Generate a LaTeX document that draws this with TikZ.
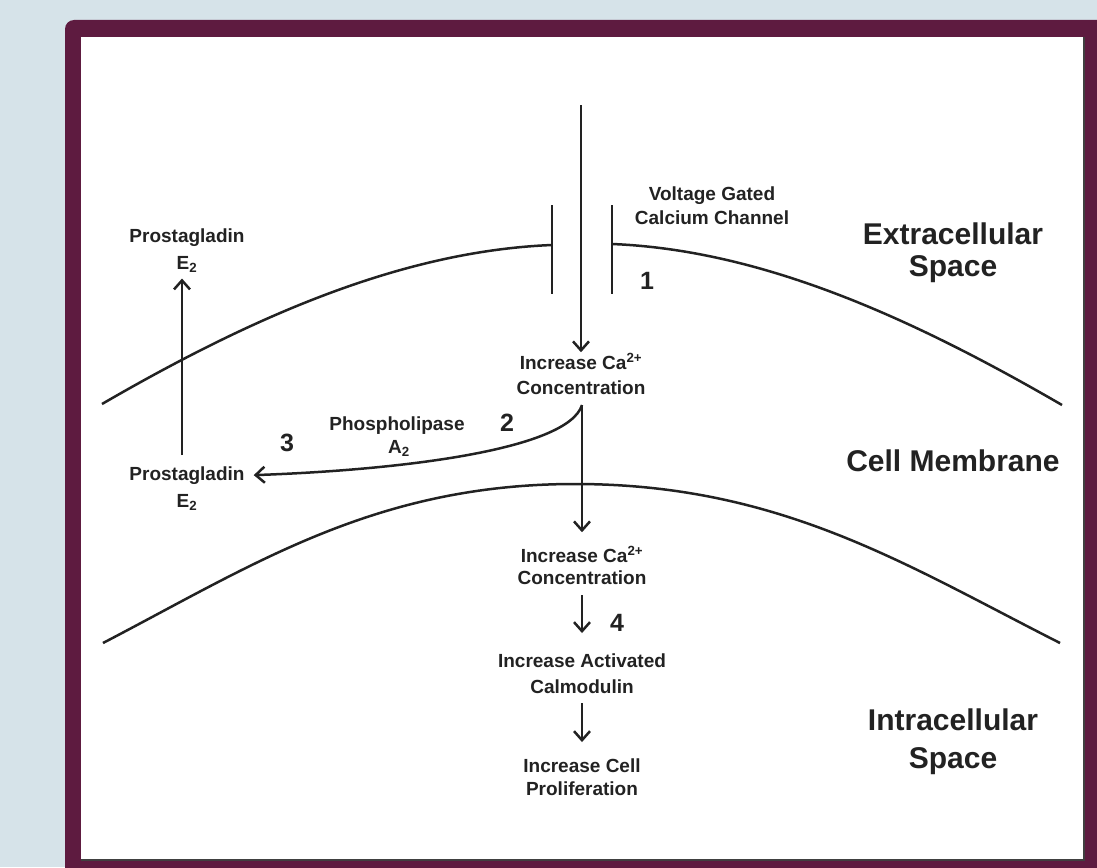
\documentclass[tikz,border=0pt]{standalone}
\usepackage{fontspec}
\setmainfont{Liberation Sans}
\usetikzlibrary{arrows.meta}
\definecolor{bgblue}{RGB}{214,227,233}
\definecolor{framec}{RGB}{94,27,64}
\definecolor{ink}{RGB}{34,34,34}
\begin{document}
\begin{tikzpicture}[x=1pt,y=-1pt,
  lbl/.style={font=\fontsize{19}{23}\selectfont\bfseries, text=ink, anchor=base, inner sep=0pt},
  big/.style={font=\fontsize{30}{36}\selectfont\bfseries, text=ink, anchor=base, inner sep=0pt},
  num/.style={font=\fontsize{25}{30}\selectfont\bfseries, text=ink, anchor=base, inner sep=0pt},
  mem/.style={line width=2.5pt, draw=ink},
  arr/.style={line width=2.5pt, draw=ink, -{Straight Barb[length=9pt,width=16pt,line width=2.5pt]}}]
\useasboundingbox (0,0) rectangle (1097,867);
\clip (0,0) rectangle (1097,867);
\fill[bgblue] (0,0) rectangle (1097,867);
\fill[framec, rounded corners=9pt] (65,20) rectangle (1130,900);
\fill[white] (81,37) rectangle (1084,860);
\draw[black!75, line width=1.5pt] (81,860) -- (1084,860) -- (1084,37);

% membranes
\draw[mem] (102,404) .. controls (252,317) and (402,251) .. (552,245);
\draw[mem] (612,244) .. controls (762,250) and (912,318) .. (1062,405);
\draw[mem] (552,205) -- (552,294);
\draw[mem] (612,205) -- (612,294);
\draw[mem] (103,643) .. controls (253,565) and (375,484) .. (575,484)
                    .. controls (780,484) and (906,565) .. (1060,643);

% labels
\node[lbl] (vg1) at (712,200) {Voltage Gated};
\node[lbl] (vg2) at (712,224) {Calcium Channel};
\node[num] (n1) at (647,289) {1};
\node[big] (ex1) at (953,244) {Extracellular};
\node[big] (ex2) at (953,276) {Space};
\node[big] (cm) at (953,471) {Cell Membrane};
\node[big] (in1) at (953,730) {Intracellular};
\node[big] (in2) at (953,768) {Space};

\node[lbl] (pg1) at (187,242) {Prostagladin};
\node[lbl] (e2a) at (187,269) {E\textsubscript{2}};
\node[lbl] (pg2) at (187,480) {Prostagladin};
\node[lbl] (e2b) at (187,507) {E\textsubscript{2}};
\node[num] (n3) at (287,451) {3};
\node[lbl] (ph1) at (397,430) {Phospholipase};
\node[lbl] (ph2) at (399,453) {A\textsubscript{2}};
\node[num] (n2) at (507,431) {2};

\node[lbl] (ca1a) at (581,369) {Increase Ca\textsuperscript{2+}};
\node[lbl] (ca1b) at (581,394) {Concentration};
\node[lbl] (ca2a) at (582,562) {Increase Ca\textsuperscript{2+}};
\node[lbl] (ca2b) at (582,584) {Concentration};
\node[num] (n4) at (617,631) {4};
\node[lbl] (cal1) at (582,667) {Increase Activated};
\node[lbl] (cal2) at (582,693) {Calmodulin};
\node[lbl] (cel1) at (582,772) {Increase Cell};
\node[lbl] (cel2) at (582,795) {Proliferation};

% connectors
\coordinate (chTop) at (581,105);
\coordinate (br) at (582,405);
\draw[arr, shorten >=1pt] (chTop) -- (ca1a.north);
\draw[arr, shorten >=14pt] (br) -- (ca2a.north);
\draw[arr] (br) .. controls (568,450) and (400,470) .. ([xshift=9pt]pg2.east);
\draw[arr] ([xshift=-5pt,yshift=11pt]pg2.north) -- ([xshift=-5pt,yshift=-6pt]e2a.south);
\draw[arr, shorten <=11pt, shorten >=20pt] (ca2b.south) -- (cal1.north);
\draw[arr, shorten <=10pt, shorten >=16pt] (cal2.south) -- (cel1.north);
\end{tikzpicture}
\end{document}
